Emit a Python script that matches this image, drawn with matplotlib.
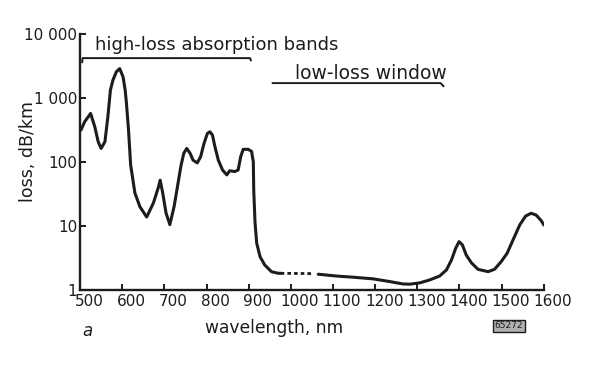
import matplotlib
matplotlib.use("Agg")
import matplotlib.pyplot as plt
import matplotlib.transforms as mtransforms

# loss curve (wavelength nm, loss dB/km)
wl_main = [502, 511, 525, 535, 543, 550, 559, 566, 572, 578, 586, 594, 602, 607,
           610, 615, 620, 630, 642, 658, 674, 686, 690, 696, 704, 713, 723, 731,
           739, 746, 753, 761, 768, 778, 786, 794, 802, 808, 814, 820, 828, 838,
           848, 855, 867, 875, 881, 887, 899, 907, 911, 912, 915, 919, 927, 938,
           954, 970, 976]
loss_main = [316, 427, 575, 355, 208, 163, 208, 512, 1333, 1910, 2570, 2890, 2150, 1333,
             834, 316, 90, 33, 20, 13.8, 22.9, 40.6, 52, 33, 15.9, 10.5, 20, 41,
             85, 137, 163, 137, 107, 97, 121, 195, 280, 297, 265, 173, 107, 75,
             63, 73, 71, 75, 121, 158, 158, 146, 100, 36, 11.5, 5.4, 3.3, 2.46,
             1.93, 1.82, 1.82]

# dashed gap (uncertain part of the curve)
wl_gap = [976, 1052]
loss_gap = [1.82, 1.80]

wl_tail = [1065, 1108, 1148, 1195, 1235, 1266, 1282, 1306, 1329, 1353, 1369, 1381,
           1391, 1399, 1407, 1416, 1428, 1444, 1468, 1483, 1499, 1513, 1527, 1543,
           1557, 1570, 1582, 1594, 1600]
loss_tail = [1.76, 1.65, 1.58, 1.49, 1.35, 1.24, 1.23, 1.29, 1.43, 1.65, 2.05, 2.94,
             4.48, 5.69, 5.05, 3.52, 2.67, 2.10, 1.93, 2.10, 2.77, 3.74, 6.04, 10.4,
             14.3, 15.8, 14.8, 12.1, 10.4]

x_ticks = list(range(500, 1700, 100))
y_ticks = [1, 10, 100, 1000, 10000]
y_labels = ["1", "10", "100", "1 000", "10 000"]

ink = "#1c1c1c"
plt.rcParams["font.family"] = ["DejaVu Sans"]

fig = plt.figure(figsize=(5.93, 3.67), dpi=100)
ax = fig.add_axes([0.135, 0.21, 0.782, 0.697])

line_kw = dict(color=ink, lw=2.2, solid_joinstyle="round", solid_capstyle="round")
ax.plot(wl_main, loss_main, **line_kw)
ax.plot(wl_gap, loss_gap, color=ink, lw=2.0, linestyle=(0, (1.3, 1.1)))
ax.plot(wl_tail, loss_tail, **line_kw)

ax.set_yscale("log")
ax.set_xlim(500, 1600)
ax.set_ylim(1, 10000)
ax.set_xticks(x_ticks)
ax.set_xticklabels([str(t) for t in x_ticks])
ax.set_yticks(y_ticks)
ax.set_yticklabels(y_labels)
ax.minorticks_off()
ax.tick_params(direction="in", length=4, width=1.4, colors=ink,
               labelsize=11, pad=3)
ax.tick_params(axis="y", pad=2)

# x labels in the scan sit a bit right of their ticks
shift = mtransforms.ScaledTranslation(9 / 100, 0, fig.dpi_scale_trans)
for lab in ax.get_xticklabels():
    lab.set_transform(lab.get_transform() + shift)

for s in ["top", "right"]:
    ax.spines[s].set_visible(False)
for s in ["left", "bottom"]:
    ax.spines[s].set_linewidth(1.7)
    ax.spines[s].set_color(ink)

# band brackets
ax.plot([505, 506, 903, 905], [3650, 4217, 4217, 3900], color=ink, lw=1.4, clip_on=False)
ax.text(535, 5623, "high-loss absorption bands", fontsize=13, color=ink,
        va="baseline", ha="left", clip_on=False)
ax.plot([957, 1355, 1362], [1715, 1715, 1540], color=ink, lw=1.4)
ax.text(1009, 1982, "low-loss window", fontsize=13.5, color=ink,
        va="baseline", ha="left")

# axis titles and small marks
fig.text(28 / 593, 1 - 152 / 367, "loss, dB/km", fontsize=12.5, color=ink,
         rotation=90, ha="center", va="center")
fig.text(274 / 593, 1 - 328 / 367, "wavelength, nm", fontsize=12.3, color=ink,
         ha="center", va="center")
fig.text(87 / 593, 1 - 331 / 367, "a", fontsize=12, style="italic", color=ink,
         ha="center", va="center")
fig.text(509 / 593, 1 - 326 / 367, "65272", fontsize=6.5, color=ink,
         ha="center", va="center",
         bbox=dict(boxstyle="square,pad=0.15", fc="#b0b0b0", ec=ink, lw=1))

fig.savefig("out.png", dpi=100)
